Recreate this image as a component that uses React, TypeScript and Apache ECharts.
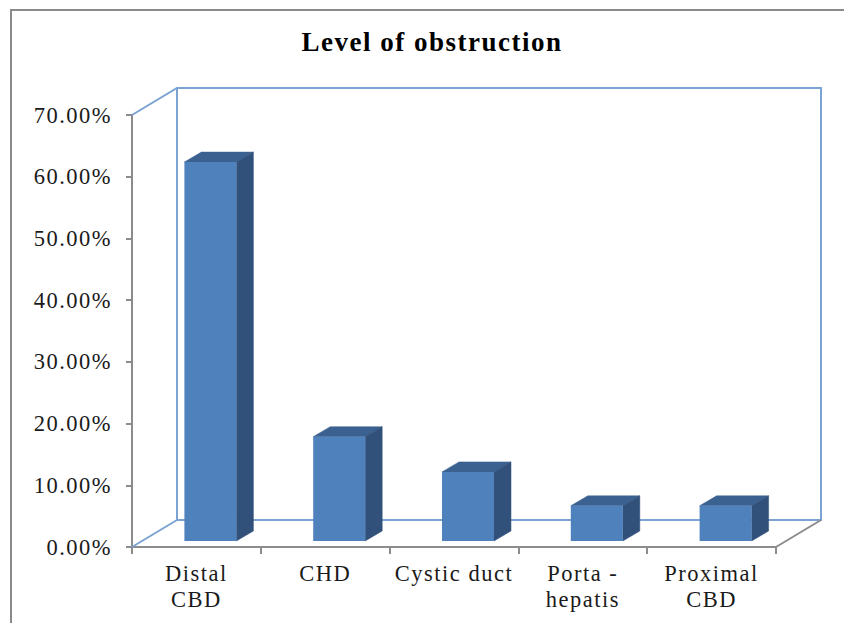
import React, { useEffect, useRef } from "react";
import * as echarts from "echarts";

const titleText = "Level of obstruction";
const categories = ["Distal\nCBD", "CHD", "Cystic duct", "Porta -\nhepatis", "Proximal\nCBD"];
const obstruction = [61.4, 16.9, 11.2, 5.7, 5.7];
const yTicks = { min: 0, max: 70, interval: 10 };

const FONT = '"Liberation Serif", "Times New Roman", serif';
const DEPTH_X = 45;
const DEPTH_Y = 27;
const BAR_SHIFT_X = 14;
const BAR_SHIFT_Y = 6;
const BAR_W = 52;
const BAR_DX = 17;
const BAR_DY = 10;

export default function App() {
  const ref = useRef<HTMLDivElement>(null);
  useEffect(() => {
    const chart = echarts.init(ref.current!, null, { renderer: "svg" });
    const wall = "#7ba3d3";
    chart.setOption({
      animation: false,
      backgroundColor: "#ffffff",
      title: {
        text: titleText,
        left: 427,
        top: 23,
        textAlign: "center",
        textStyle: { fontFamily: FONT, fontWeight: "bold", fontSize: 27, color: "#000000" },
      },
      grid: { left: 132, right: 68, top: 115, bottom: 76 },
      xAxis: {
        type: "category",
        data: categories,
        axisLine: { lineStyle: { color: "#8c8c8c", width: 2 } },
        axisTick: { show: true, length: 7, lineStyle: { color: "#8c8c8c", width: 2 } },
        axisLabel: { fontFamily: FONT, fontSize: 22.5, color: "#1a1a1a", lineHeight: 26, margin: 13, interval: 0 },
      },
      yAxis: {
        type: "value",
        min: yTicks.min,
        max: yTicks.max,
        interval: yTicks.interval,
        splitLine: { show: false },
        axisLine: { show: true, lineStyle: { color: "#8c8c8c", width: 2 } },
        axisTick: { show: true, length: 6, lineStyle: { color: "#8c8c8c", width: 2 } },
        axisLabel: {
          fontFamily: FONT,
          fontSize: 22.5,
          color: "#1a1a1a",
          margin: 20,
          padding: [3, 0, 0, 0],
          formatter: (v: number) => `${v.toFixed(2)}%`,
        },
      },
      series: [
        {
          type: "custom",
          z: 1,
          silent: true,
          clip: false,
          data: [[0, 0]],
          renderItem: (params: any) => {
            const c = params.coordSys;
            const l = c.x, r = c.x + c.width, t = c.y, b = c.y + c.height;
            const blue = { stroke: wall, lineWidth: 2, fill: "none" };
            return {
              type: "group",
              children: [
                {
                  type: "polyline",
                  shape: { points: [[l, t], [l + DEPTH_X, t - DEPTH_Y], [r + DEPTH_X, t - DEPTH_Y], [r + DEPTH_X, b - DEPTH_Y], [l + DEPTH_X, b - DEPTH_Y], [l + DEPTH_X, t - DEPTH_Y]] },
                  style: blue,
                },
                {
                  type: "polyline",
                  shape: { points: [[l, b], [l + DEPTH_X, b - DEPTH_Y]] },
                  style: blue,
                },
                {
                  type: "polyline",
                  shape: { points: [[r, b], [r + DEPTH_X, b - DEPTH_Y]] },
                  style: { stroke: "#8c8c8c", lineWidth: 2, fill: "none" },
                },
                {
                  type: "polyline",
                  shape: { points: [[11, 623], [11, 10], [844, 10]] },
                  style: { stroke: "#8a8a8a", lineWidth: 2, fill: "none" },
                },
              ],
            };
          },
        },
        {
          type: "custom",
          z: 5,
          clip: false,
          data: obstruction.map((v, i) => [i, v]),
          encode: { x: 0, y: 1 },
          renderItem: (params: any, api: any) => {
            const top = api.coord([api.value(0), api.value(1)]);
            const base = api.coord([api.value(0), 0]);
            const x0 = top[0] + BAR_SHIFT_X - BAR_W / 2;
            const x1 = x0 + BAR_W;
            const y0 = top[1] - BAR_SHIFT_Y;
            const y1 = base[1] - BAR_SHIFT_Y;
            return {
              type: "group",
              children: [
                {
                  type: "polygon",
                  shape: { points: [[x0, y0], [x1, y0], [x1 + BAR_DX, y0 - BAR_DY], [x0 + BAR_DX, y0 - BAR_DY]] },
                  style: { fill: "#3b6190", stroke: "#3b6190", lineWidth: 0.5 },
                },
                {
                  type: "polygon",
                  shape: { points: [[x1, y0], [x1 + BAR_DX, y0 - BAR_DY], [x1 + BAR_DX, y1 - BAR_DY], [x1, y1]] },
                  style: { fill: "#31517b", stroke: "#31517b", lineWidth: 0.5 },
                },
                {
                  type: "polygon",
                  shape: { points: [[x0, y0], [x1, y0], [x1, y1], [x0, y1]] },
                  style: { fill: "#4f81bd" },
                },
              ],
            };
          },
        },
      ],
    });
    return () => chart.dispose();
  }, []);
  return (
    <>
      <style>{`#chart text { letter-spacing: 1.5px; } body { margin: 0; }`}</style>
      <div id="chart" ref={ref} style={{ position: "fixed", left: 0, top: 0, width: 844, height: 623 }} />
    </>
  );
}
